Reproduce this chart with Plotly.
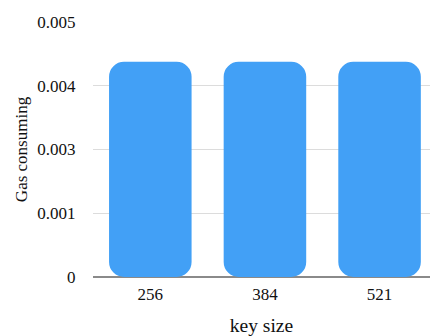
import plotly.graph_objects as go

categories = ["256", "384", "521"]
gas_values = [0.00422, 0.00422, 0.00422]
tick_vals = [0, 0.00125, 0.0025, 0.00375, 0.005]
tick_text = ["0", "0.001", "0.003", "0.004", "0.005"]

bar_color = "#42A0F6"
bases = [0 for v in gas_values]

fig = go.Figure()
fig.add_trace(go.Bar(x=categories, y=gas_values, base=bases, marker=dict(color=bar_color, line=dict(width=0), cornerradius=15), width=0.72, showlegend=False))

font_family = "Liberation Serif, Times New Roman, serif"
fig.update_layout(
    width=430, height=336,
    margin=dict(l=93, r=0, t=22, b=59),
    barmode="overlay",
    plot_bgcolor="white", paper_bgcolor="white",
    font=dict(family=font_family, size=17, color="#111"),
    xaxis=dict(
        type="category", range=[-0.5, 2.44],
        showgrid=False, showline=False, zeroline=False,
        ticks="outside", ticklen=2, tickcolor="rgba(0,0,0,0)",
        tickfont=dict(size=17),
        title=dict(text="key size", font=dict(size=19.5), standoff=14),
    ),
    yaxis=dict(
        range=[0, 0.005], tickvals=tick_vals, ticktext=tick_text,
        showgrid=True, gridcolor="#dcdcdc", gridwidth=1,
        zeroline=True, zerolinecolor="#8a8a8a", zerolinewidth=2,
        showline=False,
        ticks="outside", ticklen=13, tickcolor="rgba(0,0,0,0)",
        tickfont=dict(size=17),
        title=dict(text="Gas consuming", font=dict(size=17), standoff=5),
    ),
)

fig.write_html("out.html")
